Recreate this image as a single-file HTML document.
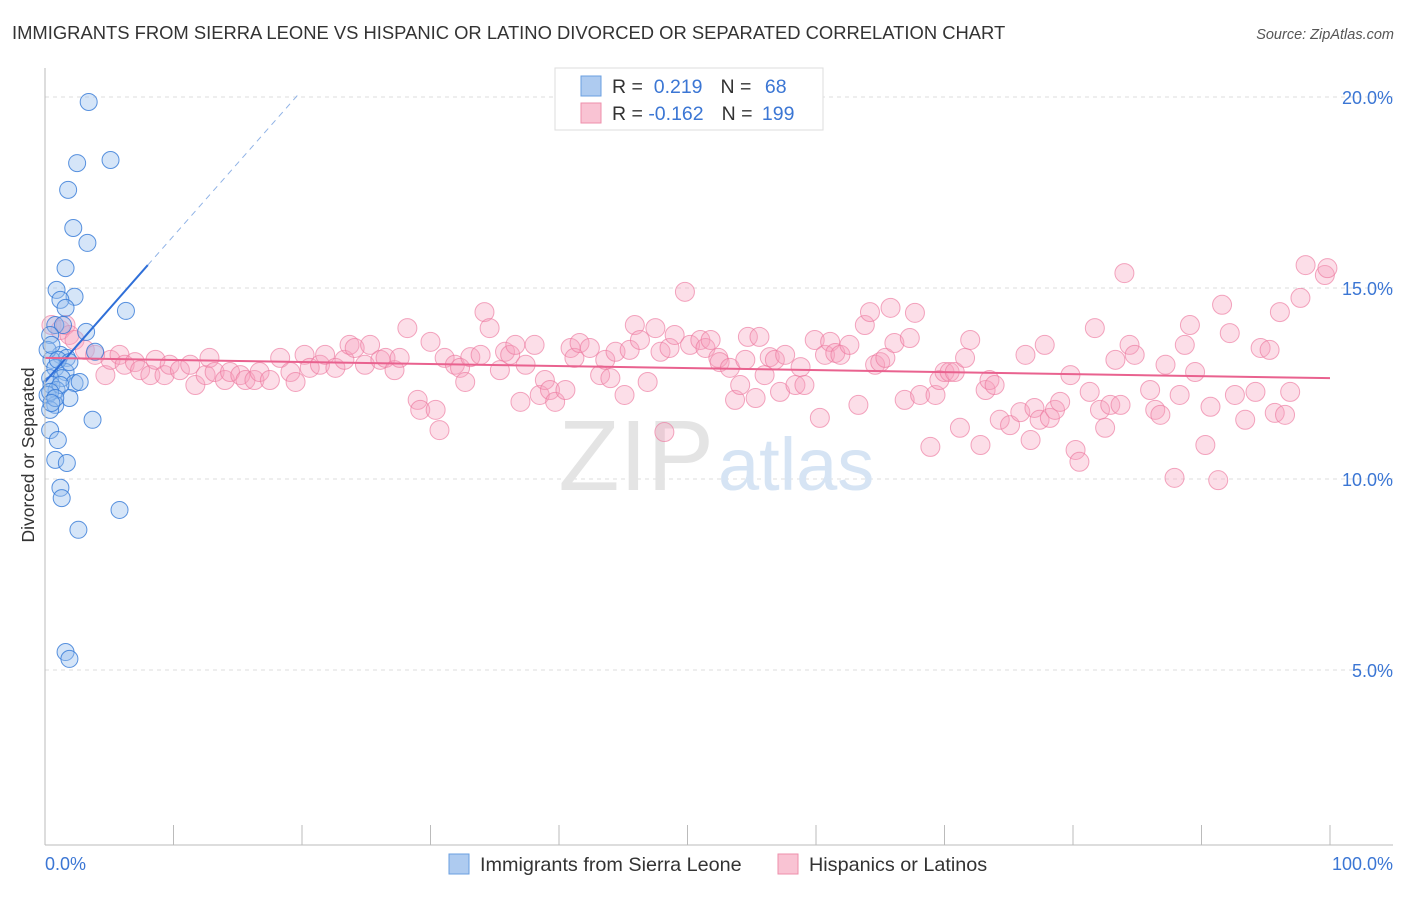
<!DOCTYPE html>
<html><head><meta charset="utf-8"><style>
body{margin:0;background:#fff;font-family:"Liberation Sans",sans-serif;}
svg text{font-family:"Liberation Sans",sans-serif;}
</style></head><body>
<svg id="chart" width="1406" height="892" xmlns="http://www.w3.org/2000/svg">
<text x="12" y="39" font-size="18.4" fill="#333">IMMIGRANTS FROM SIERRA LEONE VS HISPANIC OR LATINO DIVORCED OR SEPARATED CORRELATION CHART</text>
<text x="1394" y="39" font-size="14.5" fill="#555" font-style="italic" text-anchor="end">Source: ZipAtlas.com</text>
<text x="0" y="0" transform="translate(34,455) rotate(-90)" font-size="17.5" fill="#333" text-anchor="middle">Divorced or Separated</text>
<g id="grid"></g>
<text x="714" y="490" font-size="100" fill="#e4e4e4" text-anchor="end" font-family="Liberation Serif">ZIP</text>
<text x="718" y="490" font-size="74" fill="#d6e4f4">atlas</text>
<g id="pink"></g><g id="blue"></g><g id="lines"></g>
<line x1="45" y1="68" x2="45" y2="845" stroke="#bbb"/>
<line x1="45" y1="845" x2="1393" y2="845" stroke="#bbb"/>
<g id="xticks"></g>
<text x="45" y="870" font-size="18" fill="#3b76d4">0.0%</text>
<text x="1393" y="870" font-size="18" fill="#3b76d4" text-anchor="end">100.0%</text>
<g>
<rect x="555" y="68" width="268" height="62" fill="#fff" stroke="#ddd"/>
<rect x="581" y="76" width="20" height="20" fill="#aecbf0" stroke="#6a9fe0"/>
<rect x="581" y="103" width="20" height="20" fill="#f9c3d3" stroke="#ee8fab"/>
<text x="612" y="93" font-size="19.5" fill="#333">R = <tspan fill="#3b76d4">&#160;0.219</tspan><tspan dx="18">N = </tspan><tspan fill="#3b76d4" dx="8">68</tspan></text>
<text x="612" y="120" font-size="19.5" fill="#333">R = <tspan fill="#3b76d4">-0.162</tspan><tspan dx="18">N = </tspan><tspan fill="#3b76d4" dx="4">199</tspan></text>
</g>
<g>
<rect x="449" y="854" width="20" height="20" fill="#aecbf0" stroke="#6a9fe0"/>
<text x="480" y="871" font-size="19.8" fill="#333">Immigrants from Sierra Leone</text>
<rect x="778" y="854" width="20" height="20" fill="#f9c3d3" stroke="#ee8fab"/>
<text x="809" y="871" font-size="19.8" fill="#333">Hispanics or Latinos</text>
</g>
</svg>
<script>
const yTicks=[5,10,15,20];
const yTickLabels=["5.0%","10.0%","15.0%","20.0%"];
const xTicks=[10,20,30,40,50,60,70,80,90,100];
const pinkX=[0.5,1.2,1.6,1.9,2.3,3.1,3.9,4.7,5.1,5.8,6.2,7.0,7.4,8.2,8.6,9.3,9.7,10.5,11.3,11.7,12.5,12.8,13.2,14.0,14.4,15.2,15.6,16.3,16.7,17.5,18.3,19.1,19.5,20.2,20.6,21.4,21.8,22.6,23.3,23.7,24.1,24.9,25.3,26.1,26.5,27.2,27.6,28.2,29.0,29.2,30.0,30.4,30.7,31.1,31.9,32.3,32.7,33.1,33.9,34.2,34.6,35.4,35.8,36.2,36.6,37.0,37.4,38.1,38.5,38.9,39.3,39.7,40.5,40.9,41.2,41.6,42.4,43.2,43.6,44.0,44.4,45.1,45.5,45.9,46.3,46.9,47.5,47.9,48.2,48.6,49.0,49.8,50.2,51.0,51.4,51.8,52.4,52.5,53.3,53.7,54.1,54.5,54.7,55.3,55.6,56.0,56.4,56.8,57.2,57.6,58.4,58.8,59.1,59.9,60.3,60.7,61.1,61.5,61.9,62.6,63.3,63.8,64.2,64.6,65.0,65.4,65.8,66.1,66.9,67.3,67.7,68.1,68.9,69.3,69.6,70.0,70.4,70.8,71.2,71.6,72.0,72.8,73.2,73.5,73.9,74.3,75.1,75.9,76.3,76.7,77.0,77.4,77.8,78.2,78.6,79.0,79.8,80.2,80.5,81.3,81.7,82.1,82.5,82.9,83.3,83.7,84.0,84.4,84.8,86.0,86.4,86.8,87.2,87.9,88.3,88.7,89.1,89.5,90.3,90.7,91.3,91.6,92.2,92.6,93.4,94.2,94.6,95.3,95.7,96.1,96.5,96.9,97.7,98.1,99.6,99.8];
const pinkY=[14.03,13.90,14.03,13.77,13.64,13.38,13.25,12.72,13.12,13.25,12.99,13.06,12.85,12.72,13.12,12.72,12.99,12.85,12.99,12.46,12.72,13.17,12.80,12.59,12.80,12.72,12.59,12.59,12.80,12.59,13.17,12.80,12.54,13.25,12.91,12.99,13.25,12.91,13.12,13.51,13.43,12.99,13.51,13.12,13.17,12.85,13.17,13.95,12.07,11.81,13.59,11.81,11.28,13.17,12.99,12.91,12.54,13.19,13.25,14.37,13.95,12.85,13.33,13.25,13.51,12.02,12.99,13.51,12.20,12.59,12.33,12.02,12.33,13.43,13.17,13.56,13.43,12.72,13.12,12.64,13.33,12.20,13.38,14.03,13.64,12.54,13.95,13.33,11.23,13.43,13.77,14.90,13.51,13.64,13.43,13.64,13.17,13.06,12.91,12.07,12.46,13.12,13.72,12.12,13.72,12.72,13.19,13.12,12.28,13.25,12.46,12.93,12.46,13.64,11.60,13.25,13.59,13.30,13.25,13.51,11.94,14.03,14.37,12.99,13.06,13.17,14.48,13.56,12.07,13.69,14.35,12.20,10.84,12.20,12.59,12.80,12.80,12.80,11.34,13.17,13.64,10.89,12.33,12.59,12.46,11.55,11.41,11.75,13.25,11.02,11.86,11.55,13.51,11.60,11.81,12.02,12.72,10.76,10.45,12.28,13.95,11.81,11.34,11.94,13.12,11.94,15.39,13.51,13.25,12.33,11.81,11.68,12.99,10.03,12.20,13.51,14.03,12.80,10.89,11.89,9.97,14.56,13.82,12.20,11.55,12.28,13.43,13.38,11.73,14.37,11.68,12.28,14.74,15.60,15.34,15.52];
const blueX=[3.4,5.1,2.5,1.8,2.2,3.3,1.6,0.9,2.3,1.2,1.6,6.3,0.8,1.4,3.2,0.4,1.2,1.7,0.5,3.9,0.8,1.6,0.4,1.3,2.3,0.5,0.9,0.2,1.9,0.8,0.4,3.7,0.4,1.0,0.8,1.7,1.2,1.3,2.6,5.8,1.6,1.9,0.2,0.5,1.0,1.9,2.7,1.2,0.4,0.8,0.5];
const blueY=[19.87,18.35,18.27,17.57,16.57,16.18,15.52,14.95,14.77,14.69,14.48,14.40,14.03,14.03,13.85,13.77,13.25,13.17,13.12,13.33,12.91,12.80,12.64,12.64,12.51,12.46,12.33,12.20,12.12,11.94,11.81,11.55,11.28,11.02,10.50,10.42,9.77,9.50,8.67,9.19,5.47,5.29,13.38,13.51,13.12,13.06,12.54,12.46,12.28,12.12,11.99];
const blueTrend=[[0,12.54],[8,15.6],[19.8,20.1]];
const pinkTrend=[[0,13.17],[100,12.64]];
const X=v=>45+v*12.85, Y=v=>861-v*38.2;
const NS="http://www.w3.org/2000/svg";
function mk(t,a,p){const e=document.createElementNS(NS,t);for(const k in a)e.setAttribute(k,a[k]);document.getElementById(p).appendChild(e);return e;}
yTicks.forEach((t,i)=>{
 const l=mk('line',{x1:45,x2:1393,y1:Y(t),y2:Y(t),stroke:'#ddd','stroke-dasharray':'4,4'},'grid');
 
 
 const tx=mk('text',{x:1393,y:Y(t)+7,'font-size':18,fill:'#3b76d4','text-anchor':'end'},'grid');
 tx.textContent=yTickLabels[i];
 
 
});
xTicks.forEach(t=>{
 const l=mk('line',{x1:X(t),x2:X(t),y1:825,y2:845,stroke:'#bbb'},'xticks');
 
 
});
pinkX.forEach((x,i)=>{
 const c=mk('circle',{cx:X(x),cy:Y(pinkY[i]),r:9.5,fill:'rgba(246,160,188,0.35)',stroke:'rgba(236,120,158,0.65)','stroke-width':1},'pink');
 
 
});
blueX.forEach((x,i)=>{
 const c=mk('circle',{cx:X(x),cy:Y(blueY[i]),r:8.5,fill:'rgba(150,190,238,0.4)',stroke:'rgba(50,120,215,0.8)','stroke-width':1},'blue');
 
 
});
const b1=mk('line',{x1:X(blueTrend[0][0]),y1:Y(blueTrend[0][1]),x2:X(blueTrend[1][0]),y2:Y(blueTrend[1][1]),stroke:'#2f6fd8','stroke-width':2},'lines');


const b2=mk('line',{x1:X(blueTrend[1][0]),y1:Y(blueTrend[1][1]),x2:X(blueTrend[2][0]),y2:Y(blueTrend[2][1]),stroke:'#8fb2e6','stroke-width':1,'stroke-dasharray':'6,5'},'lines');


const p1=mk('line',{x1:X(pinkTrend[0][0]),y1:Y(pinkTrend[0][1]),x2:X(pinkTrend[1][0]),y2:Y(pinkTrend[1][1]),stroke:'#e9628f','stroke-width':2},'lines');


</script>
</body></html>
